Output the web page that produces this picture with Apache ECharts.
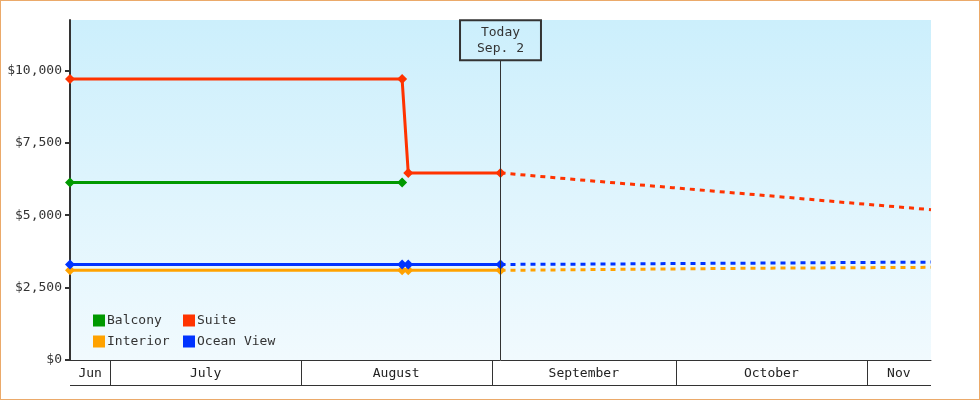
<!DOCTYPE html>
<html>
<head>
<meta charset="UTF-8">
<title>Cabin prices</title>
<script src="https://cdn.jsdelivr.net/npm/echarts@6/dist/echarts.min.js"></script>
<style>
    html, body { margin: 0; padding: 0; background: #fff; }
    #frame { width: 980px; height: 400px; box-sizing: border-box; border: 1px solid #ebaa6a; }
    #main { width: 978px; height: 398px; }
</style>
</head>
<body>
<div id="frame"><div id="main"></div></div>
<script>
    // dates are read as UTC
    function t(s) { return Date.parse(s + 'Z'); }

    var axisStart = '2015-06-24T11:00';
    var axisEnd = '2015-11-11T11:00';
    var today = '2015-09-02T11:00';
    var todayText = 'Today\nSep. 2';

    // known prices up to today
    var pastDates = ['2015-06-24T11:00', '2015-08-17T11:00', '2015-08-18T11:00', '2015-09-02T11:00'];
    var balcony = [6130, 6130];
    var suite = [9700, 9700, 6460, 6460];
    var interior = [3095, 3095, 3095, 3095];
    var oceanView = [3300, 3300, 3300, 3300];

    // forecast after today (dotted)
    var forecastDates = ['2015-09-02T11:00', '2015-09-16T11:00', '2015-09-30T11:00', '2015-10-14T11:00', '2015-10-28T11:00', '2015-11-11T11:00'];
    var suiteForecast = [6460, 6200, 5950, 5700, 5440, 5190];
    var interiorForecast = [3095, 3120, 3145, 3170, 3185, 3200];
    var oceanViewForecast = [3300, 3310, 3330, 3345, 3365, 3380];

    // month band under the plot
    var monthNames = ['Jun', 'July', 'August', 'September', 'October', 'Nov'];
    var monthStarts = ['2015-06-01T00:00', '2015-07-01T00:00', '2015-08-01T00:00', '2015-09-01T00:00', '2015-10-01T00:00', '2015-11-01T00:00'];
    var monthEnds = ['2015-07-01T00:00', '2015-08-01T00:00', '2015-09-01T00:00', '2015-10-01T00:00', '2015-11-01T00:00', '2015-12-01T00:00'];

    var yTicks = [0, 2500, 5000, 7500, 10000];
    var yMax = 11740;
    var todayLineTop = 10350;

    var colors = { balcony: '#009900', suite: '#ff3300', interior: '#ffa200', ocean: '#0033ff' };
    var font = '"DejaVu Sans Mono", monospace';

    function pairs(dates, vals) {
        var out = [];
        for (var i = 0; i < vals.length; i++) out.push([t(dates[i]), vals[i]]);
        return out;
    }

    var minT = t(axisStart), maxT = t(axisEnd);
    var months = [];
    for (var i = 0; i < monthNames.length; i++) months.push([t(monthStarts[i]), t(monthEnds[i])]);

    function solid(name, color, data) {
        return {
            name: name, type: 'line', data: data, color: color,
            symbol: 'diamond', symbolSize: 10, clip: false,
            lineStyle: { width: 3, color: color }, itemStyle: { color: color },
            emphasis: { disabled: true }
        };
    }
    function dotted(name, color, data) {
        return {
            name: name, type: 'line', data: data, color: color,
            showSymbol: false, symbol: 'none', clip: false, z: 1,
            lineStyle: { width: 3, color: color, type: [5, 5] },
            emphasis: { disabled: true }
        };
    }

    var suiteSeries = solid('Suite', colors.suite, pairs(pastDates, suite));
    suiteSeries.markLine = {
        silent: true, symbol: 'none', animation: false,
        lineStyle: { color: '#333', width: 1, type: 'solid' },
        label: {
            show: true, position: 'end', distance: 0, formatter: todayText,
            color: '#333', fontFamily: font, fontSize: 13, lineHeight: 16,
            padding: [4, 17, 4, 17], borderColor: '#333', borderWidth: 1,
            backgroundColor: 'rgba(0,0,0,0)'
        },
        emphasis: { disabled: true },
        data: [[{ coord: [t(today), 0] }, { coord: [t(today), todayLineTop] }]]
    };

    var chart = echarts.init(document.getElementById('main'));
    chart.setOption({
        animation: false,
        useUTC: true,
        grid: [
            {
                left: 69, right: 48, top: 19, bottom: 39, show: true, borderWidth: 0,
                backgroundColor: new echarts.graphic.LinearGradient(0, 0, 0, 1, [
                    { offset: 0, color: '#cceffc' },
                    { offset: 1, color: '#f1fafe' }
                ])
            },
            { left: 69, right: 48, top: 359, height: 25 }
        ],
        legend: [
            {
                data: ['Balcony', 'Interior'], orient: 'vertical', left: 92, top: 313,
                icon: 'rect', itemWidth: 12, itemHeight: 12, itemGap: 8, padding: 0,
                selectedMode: false,
                textStyle: { fontFamily: font, fontSize: 13, color: '#333', lineHeight: 12, padding: [0, 0, 0, -3] }
            },
            {
                data: ['Suite', 'Ocean View'], orient: 'vertical', left: 182, top: 313,
                icon: 'rect', itemWidth: 12, itemHeight: 12, itemGap: 8, padding: 0,
                selectedMode: false,
                textStyle: { fontFamily: font, fontSize: 13, color: '#333', lineHeight: 12, padding: [0, 0, 0, -3] }
            }
        ],
        xAxis: [
            {
                type: 'time', gridIndex: 0, min: minT, max: maxT,
                axisLine: { show: true, lineStyle: { color: '#333', width: 1 } },
                axisTick: { show: false }, axisLabel: { show: false }, splitLine: { show: false }
            },
            {
                type: 'time', gridIndex: 1, min: minT, max: maxT, show: false
            }
        ],
        yAxis: [
            {
                type: 'value', gridIndex: 0, min: 0, max: yMax,
                axisLine: { show: true, lineStyle: { color: '#333', width: 2 } },
                axisTick: { show: true, length: 5, lineStyle: { color: '#333', width: 2 }, customValues: yTicks },
                axisLabel: {
                    customValues: yTicks, margin: 8, color: '#333', fontFamily: font, fontSize: 13,
                    formatter: function (v) { return '$' + v.toLocaleString('en-US'); }
                },
                splitLine: { show: false }
            },
            { type: 'value', gridIndex: 1, min: 0, max: 1, show: false }
        ],
        series: [
            solid('Balcony', colors.balcony, pairs(pastDates, balcony)),
            suiteSeries,
            solid('Interior', colors.interior, pairs(pastDates, interior)),
            solid('Ocean View', colors.ocean, pairs(pastDates, oceanView)),
            dotted('Suite', colors.suite, pairs(forecastDates, suiteForecast)),
            dotted('Interior', colors.interior, pairs(forecastDates, interiorForecast)),
            dotted('Ocean View', colors.ocean, pairs(forecastDates, oceanViewForecast)),
            {
                type: 'custom', xAxisIndex: 1, yAxisIndex: 1, silent: true,
                data: months,
                renderItem: function (params, api) {
                    var s = Math.max(api.value(0), minT), e = Math.min(api.value(1), maxT);
                    var p0 = api.coord([s, 1]), p1 = api.coord([e, 0]);
                    var x0 = Math.round(p0[0]) + 0.5, x1 = Math.round(p1[0]);
                    var yb = Math.round(p1[1]) + 0.5, yt = Math.round(p0[1]);
                    var kids = [
                        { type: 'line', shape: { x1: Math.round(p0[0]), y1: yb, x2: x1, y2: yb }, style: { stroke: '#333', lineWidth: 1 } },
                        {
                            type: 'text',
                            style: {
                                text: monthNames[params.dataIndex], x: (p0[0] + p1[0]) / 2, y: (yt + yb) / 2 + 1,
                                align: 'center', verticalAlign: 'middle', fontFamily: font, fontSize: 13, fill: '#222'
                            }
                        }
                    ];
                    if (api.value(0) > minT) {
                        kids.push({ type: 'line', shape: { x1: x0, y1: yt, x2: x0, y2: yb }, style: { stroke: '#333', lineWidth: 1 } });
                    }
                    return { type: 'group', children: kids };
                }
            }
        ]
    });
</script>
</body>
</html>
